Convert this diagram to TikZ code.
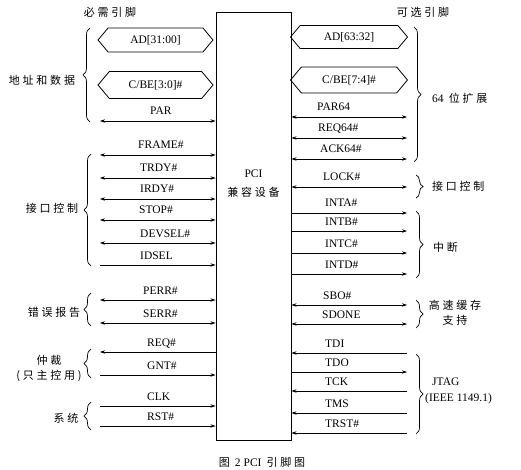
\documentclass[tikz,border=0pt]{standalone}
\usepackage{fontspec}
\setmainfont{Liberation Serif}
\newfontfamily\cjk[LetterSpace=25]{Noto Sans CJK SC}
\usetikzlibrary{arrows.meta, shapes.symbols, decorations.pathreplacing, positioning}

\newcommand{\sigfont}{\rmfamily\fontsize{11.5}{13}\selectfont}
\newcommand{\cnfont}{\cjk\fontsize{11}{13}\selectfont}

\begin{document}
\begin{tikzpicture}[x=1pt, y=-1pt, >={Stealth[length=5pt, width=3.4pt]},
    line/.style = {draw, line width=0.8pt},
    bus/.style = {shape=signal, signal to=west and east, signal pointer angle=100, draw, line width=0.8pt, minimum width=115pt, inner sep=0pt, font=\sigfont},
    lbl/.style = {anchor=base west, inner sep=0pt, font=\sigfont},
    grp/.style = {inner sep=0pt, font=\cnfont, align=center},
    brc/.style = {draw, line width=0.7pt, decorate, decoration={brace, amplitude=7pt}}
]

\useasboundingbox (0,0) rectangle (521,470);

% device
\node (pci) [draw, line width=0.9pt, minimum width=75pt, minimum height=428pt, inner sep=0pt] at (253.5,226) {};
\node (pcitext) [grp] at (253.5,184) {{\sigfont PCI}\\[6pt]兼容设备};

\node (must) [grp] at (110,12) {必需引脚};
\node (opt) [grp] at (423,12) {可选引脚};

% required pins
\node (ad) [bus, minimum height=24pt] at (155.5,40) {AD[31:00]};
\node (cbe) [bus, minimum height=27pt] at (155.5,85) {C/BE[3:0]\#};

\coordinate (par) at (100,121);
\coordinate (frame) at (100,155);
\coordinate (trdy) at (100,178);
\coordinate (irdy) at (100,199);
\coordinate (stop) at (100,220);
\coordinate (devsel) at (100,243);
\coordinate (idsel) at (100,265);
\coordinate (perr) at (100,300);
\coordinate (serr) at (100,323);
\coordinate (req) at (100,352);
\coordinate (gnt) at (100,375);
\coordinate (clk) at (100,406);
\coordinate (rst) at (100,426);

\draw [line, <->] (par) -- (par -| pci.west);
\draw [line, <->] (frame) -- (frame -| pci.west);
\draw [line, <->] (trdy) -- (trdy -| pci.west);
\draw [line, <->] (irdy) -- (irdy -| pci.west);
\draw [line, <->] (stop) -- (stop -| pci.west);
\draw [line, <->] (devsel) -- (devsel -| pci.west);
\draw [line, ->] (idsel) -- (idsel -| pci.west);
\draw [line, <->] (perr) -- (perr -| pci.west);
\draw [line, <->] (serr) -- (serr -| pci.west);
\draw [line, <-] (req) -- (req -| pci.west);
\draw [line, ->] (gnt) -- (gnt -| pci.west);
\draw [line, ->] (clk) -- (clk -| pci.west);
\draw [line, ->] (rst) -- (rst -| pci.west);

\node (parl) [lbl] at (150,115) {PAR};
\node (framel) [lbl] at (138,149) {FRAME\#};
\node (trdyl) [lbl] at (140,172) {TRDY\#};
\node (irdyl) [lbl] at (140,193) {IRDY\#};
\node (stopl) [lbl] at (139,214) {STOP\#};
\node (devsell) [lbl] at (140,237) {DEVSEL\#};
\node (idsell) [lbl] at (140,259) {IDSEL};
\node (perrl) [lbl] at (143,294) {PERR\#};
\node (serrl) [lbl] at (143,317) {SERR\#};
\node (reql) [lbl] at (147,346) {REQ\#};
\node (gntl) [lbl] at (147,369) {GNT\#};
\node (clkl) [lbl] at (147,400) {CLK};
\node (rstl) [lbl] at (147,420) {RST\#};

% left groups
\draw [brc] (90,122) -- (90,28);
\draw [brc] (91,266) -- (91,154);
\draw [brc] (91,326) -- (91,293);
\draw [brc] (91,378) -- (91,349);
\draw [brc] (91,430) -- (91,402);

\node (addr) [grp] at (42,80) {地址和数据};
\node (ifc) [grp] at (52,208) {接口控制};
\node (err) [grp] at (54,312) {错误报告};
\node (arb) [grp] at (49,368) {仲裁\\[2pt](只主控用)};
\node (sys) [grp] at (66,418) {系统};

% optional pins
\node (ad64) [bus, minimum height=23pt, minimum width=117pt] at (349,37) {AD[63:32]};
\node (cbe64) [bus, minimum height=26pt, minimum width=117pt] at (349,80) {C/BE[7:4]\#};

\coordinate (par64) at (407,117);
\coordinate (req64) at (407,138);
\coordinate (ack64) at (407,159);
\coordinate (lock) at (407,187);
\coordinate (inta) at (407,213);
\coordinate (intb) at (407,231);
\coordinate (intc) at (407,253);
\coordinate (intd) at (407,274);
\coordinate (sbo) at (407,305);
\coordinate (sdone) at (407,324);
\coordinate (tdi) at (407,353);
\coordinate (tdo) at (407,372);
\coordinate (tck) at (407,391);
\coordinate (tms) at (407,413);
\coordinate (trst) at (407,433);

\draw [line, <->] (par64 -| pci.east) -- (par64);
\draw [line, <->] (req64 -| pci.east) -- (req64);
\draw [line, <->] (ack64 -| pci.east) -- (ack64);
\draw [line, <->] (lock -| pci.east) -- (lock);
\draw [line, ->] (inta -| pci.east) -- (inta);
\draw [line, ->] (intb -| pci.east) -- (intb);
\draw [line, ->] (intc -| pci.east) -- (intc);
\draw [line, ->] (intd -| pci.east) -- (intd);
\draw [line, <->] (sbo -| pci.east) -- (sbo);
\draw [line, <->] (sdone -| pci.east) -- (sdone);
\draw [line, <-] (tdi -| pci.east) -- (tdi);
\draw [line, ->] (tdo -| pci.east) -- (tdo);
\draw [line, <-] (tck -| pci.east) -- (tck);
\draw [line, <-] (tms -| pci.east) -- (tms);
\draw [line, <-] (trst -| pci.east) -- (trst);

\node (par64l) [lbl] at (317,111) {PAR64};
\node (req64l) [lbl] at (318,132) {REQ64\#};
\node (ack64l) [lbl] at (320,153) {ACK64\#};
\node (lockl) [lbl] at (323,181) {LOCK\#};
\node (intal) [lbl] at (325,207) {INTA\#};
\node (intbl) [lbl] at (325,225) {INTB\#};
\node (intcl) [lbl] at (325,247) {INTC\#};
\node (intdl) [lbl] at (325,268) {INTD\#};
\node (sbol) [lbl] at (323,299) {SBO\#};
\node (sdonel) [lbl] at (322,318) {SDONE};
\node (tdil) [lbl] at (325,347) {TDI};
\node (tdol) [lbl] at (325,366) {TDO};
\node (tckl) [lbl] at (325,385) {TCK};
\node (tmsl) [lbl] at (325,407) {TMS};
\node (trstl) [lbl] at (325,427) {TRST\#};

% right groups
\draw [brc] (414,27) -- (414,162);
\draw [brc] (416,175) -- (416,198);
\draw [brc] (416,211) -- (416,278);
\draw [brc] (416,300) -- (416,328);
\draw [brc] (416,354) -- (416,434);

\node (ext64) [grp, anchor=west] at (432,98) {{\sigfont 64} 位扩展};
\node (ifc64) [grp, anchor=west] at (432,186) {接口控制};
\node (irq) [grp, anchor=west] at (433,247) {中断};
\node (cache) [grp] at (455,313) {高速缓存\\[2pt]支持};
\node (jtag) [lbl, anchor=west, align=left] at (425,391) {\hspace*{7pt}JTAG\\[3pt](IEEE 1149.1)};

\node (cap) [grp] at (262,462) {图 {\sigfont 2 PCI} 引脚图};

\end{tikzpicture}
\end{document}
